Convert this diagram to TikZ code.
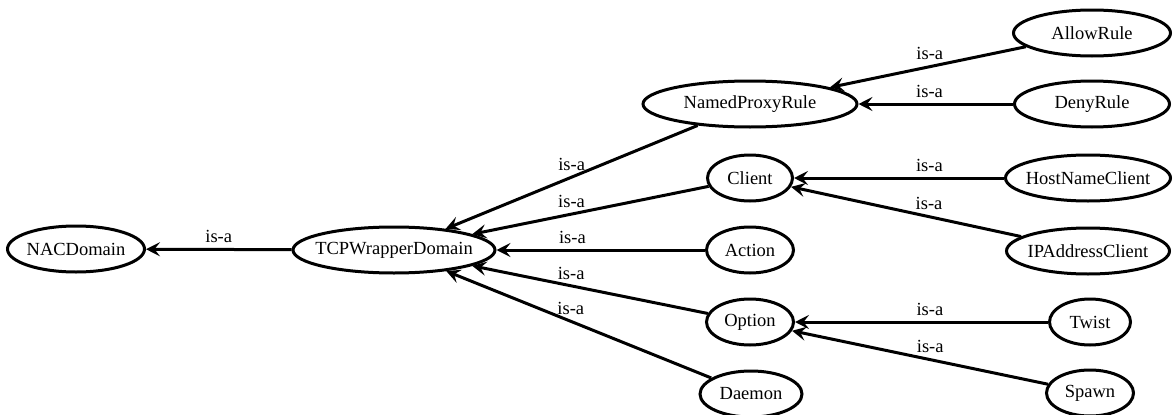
\documentclass[tikz,border=0pt]{standalone}
\usepackage{fontspec}
\setmainfont{Liberation Serif}
\usetikzlibrary{shapes.geometric,arrows.meta}
\begin{document}
\begin{tikzpicture}[x=1pt,y=-1pt,
  cls/.style={draw,ellipse,line width=3pt,inner xsep=-20pt,inner ysep=0pt,
    minimum height=46pt,font=\fontsize{18.5}{20}\selectfont},
  isa/.style={line width=3pt,-{Stealth[length=14pt,width=14pt,inset=5.5pt]}},
  lbl/.style={above=4pt,inner sep=1pt,font=\fontsize{18.5}{20}\selectfont}]
\useasboundingbox (0,0) rectangle (1173,415);
% classes, one column per level
\node[cls,minimum width=137pt] (nac) at (76,249) {NACDomain};
\node[cls,minimum width=202pt] (tcp) at (394,250) {TCPWrapperDomain};
\node[cls,minimum width=214pt] (npr) at (750,104) {NamedProxyRule};
\node[cls,minimum width=85pt] (client) at (750,178) {Client};
\node[cls,minimum width=87pt] (action) at (750,250) {Action};
\node[cls,minimum width=87pt] (option) at (750,322) {Option};
\node[cls,minimum width=102pt] (daemon) at (751,394) {Daemon};
\node[cls,minimum width=157pt] (allow) at (1092,33) {AllowRule};
\node[cls,minimum width=155pt] (deny) at (1092,104) {DenyRule};
\node[cls,minimum width=165pt] (host) at (1088,178) {HostNameClient};
\node[cls,minimum width=163pt] (ip) at (1088,251) {IPAddressClient};
\node[cls,minimum width=81pt] (twist) at (1090,322) {Twist};
\node[cls,minimum width=87pt] (spawn) at (1090,393) {Spawn};
% is-a links, child to parent
\draw[isa] (tcp) -- node[lbl,pos=0.5]{is-a} (nac);
\draw[isa] (npr) -- node[lbl,pos=0.5]{is-a} (tcp);
\draw[isa] (client) -- node[lbl,pos=0.58]{is-a} (tcp);
\draw[isa] (action) -- node[lbl,pos=0.636]{is-a} (tcp);
\draw[isa] (option) -- node[lbl,pos=0.58]{is-a} (tcp);
\draw[isa] (daemon) -- node[lbl,pos=0.53]{is-a} (tcp);
\draw[isa] (allow) -- node[lbl,pos=0.49]{is-a} (npr);
\draw[isa] (deny) -- node[lbl,pos=0.54]{is-a} (npr);
\draw[isa] (host) -- node[lbl,pos=0.355]{is-a} (client);
\draw[isa] (ip) -- node[lbl,pos=0.4]{is-a} (client);
\draw[isa] (twist) -- node[lbl,pos=0.467]{is-a} (option);
\draw[isa] (spawn) -- node[lbl,pos=0.46]{is-a} (option);
\end{tikzpicture}
\end{document}
